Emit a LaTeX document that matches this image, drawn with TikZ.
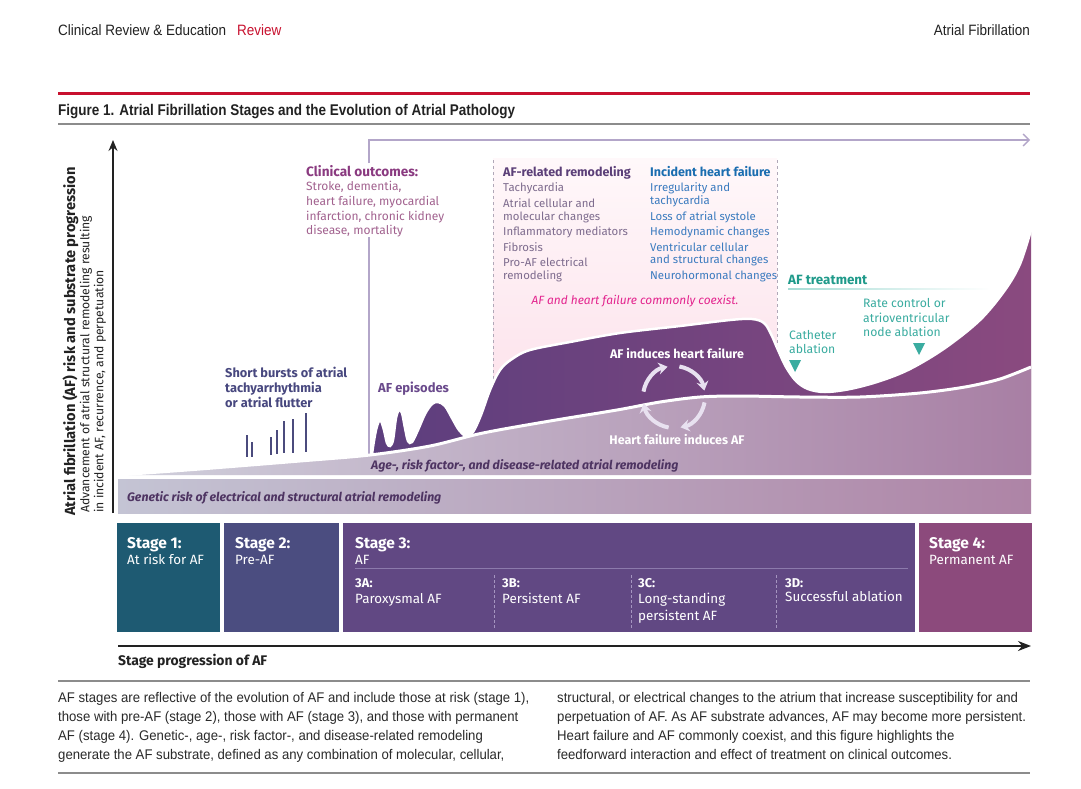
\documentclass[tikz,border=0pt]{standalone}
\usepackage{fontspec}
\setmainfont{Fira Sans}
\newfontfamily\capfont[FakeStretch=0.94]{Liberation Sans}
\newfontfamily\hdrfont[FakeStretch=0.9]{Liberation Sans}
\newfontfamily\titfont[FakeStretch=0.87]{Liberation Sans}
\usetikzlibrary{arrows.meta}

\definecolor{jred}{HTML}{C8102E}
\definecolor{hdr}{HTML}{222222}
\definecolor{rulegray}{HTML}{8C8C8C}
\definecolor{captext}{HTML}{2A2A2A}
\definecolor{lav}{HTML}{B3A6C9}
\definecolor{pinkA}{HTML}{FFF8FA}
\definecolor{pinkB}{HTML}{FCE0EA}
\definecolor{dashgray}{HTML}{B0A8B8}
\definecolor{waveL}{HTML}{5C3E7E}
\definecolor{waveR}{HTML}{8A4A7F}
\definecolor{ageL}{HTML}{D0D0DC}
\definecolor{ageR}{HTML}{A87FA4}
\definecolor{genL}{HTML}{C4C4D4}
\definecolor{genR}{HTML}{AE84A6}
\definecolor{gentext}{HTML}{4E3462}
\definecolor{clinT}{HTML}{8A3A80}
\definecolor{clinB}{HTML}{A2628F}
\definecolor{afrT}{HTML}{5B3F78}
\definecolor{afrB}{HTML}{7E6C8E}
\definecolor{ihfT}{HTML}{1A6DB0}
\definecolor{ihfB}{HTML}{3B7BBF}
\definecolor{coex}{HTML}{E3248E}
\definecolor{tealT}{HTML}{1F9A8A}
\definecolor{tealB}{HTML}{3AACA0}
\definecolor{tealL}{HTML}{A6DCD5}
\definecolor{barcol}{HTML}{4B4B7D}
\definecolor{burst}{HTML}{48487F}
\definecolor{episode}{HTML}{6A4A8C}
\definecolor{circ}{HTML}{E8E1F0}
\definecolor{stA}{HTML}{1E5A72}
\definecolor{stB}{HTML}{4B4D80}
\definecolor{stC}{HTML}{614883}
\definecolor{stD}{HTML}{8C4A7C}
\definecolor{stline}{HTML}{8C7AAC}
\definecolor{stdash}{HTML}{A595C0}

\tikzset{
  txt/.style={inner sep=0pt, anchor=base west},
  ttl/.style={txt, font=\bfseries\fontsize{12.5}{14}\selectfont},
  itm/.style={txt, font=\fontsize{11.4}{13}\selectfont},
  tealtxt/.style={txt, font=\fontsize{12.2}{14}\selectfont, text=tealB},
  stt/.style={txt, font=\bfseries\fontsize{15.5}{17}\selectfont, text=white},
  sts/.style={txt, font=\fontsize{13.4}{15}\selectfont, text=white},
  sbt/.style={txt, font=\bfseries\fontsize{12.8}{15}\selectfont, text=white},
  captxt/.style={txt, font=\capfont\fontsize{14}{16}\selectfont, text=captext},
  hdrtxt/.style={txt, font=\hdrfont\fontsize{15}{17}\selectfont, text=hdr},
  stagebox/.style={draw=none, inner sep=0pt, anchor=north west, minimum height=109pt},
  bar/.style={line width=2pt, draw=barcol},
  ylab/.style={inner sep=0pt, anchor=west, rotate=90, text=hdr},
  bandtxt/.style={txt, font=\bfseries\itshape\fontsize{12.3}{14}\selectfont, text=gentext},
  whitetxt/.style={txt, font=\bfseries\fontsize{12.5}{14}\selectfont, text=white},
}

\begin{document}
\begin{tikzpicture}[x=1pt,y=-1pt]
\useasboundingbox (0,0) rectangle (1081,789);
\fill[white] (0,0) rectangle (1081,789);

% ---------- header ----------
\node[hdrtxt] (hd1) at (58,36) {Clinical Review \& Education};
\node[hdrtxt, text=jred] (hd2) at (237,36) {Review};
\node[hdrtxt, anchor=base east] (hd3) at (1030,36) {Atrial Fibrillation};
\coordinate (rl1) at (58,94); \coordinate (rl2) at (1030,94);
\draw[jred, line width=3pt] (rl1) -- (rl2);
\node[txt, font=\titfont\bfseries\fontsize{15.5}{17}\selectfont, text=hdr] (ftit) at (58,115.5)
  {Figure 1. Atrial Fibrillation Stages and the Evolution of Atrial Pathology};
\coordinate (gl1) at (58,124); \coordinate (gl2) at (1030,124);
\draw[rulegray, line width=2pt] (gl1) -- (gl2);

% ---------- pink coexist region ----------
\shade[top color=pinkA, bottom color=pinkB] (493,158) rectangle (777,420);
\coordinate (d1a) at (493,160); \coordinate (d1b) at (493,420);
\coordinate (d2a) at (777,160); \coordinate (d2b) at (777,420);
\draw[dashgray, line width=1pt, dash pattern=on 3pt off 3pt] (d1a) -- (d1b);
\draw[dashgray, line width=1pt, dash pattern=on 3pt off 3pt] (d2a) -- (d2b);

% ---------- lavender clinical-outcomes arrow ----------
\coordinate (lavlow) at (369,455); \coordinate (lavmid) at (369,237);
\coordinate (lavup) at (369,163); \coordinate (lavc) at (369,140);
\coordinate (lavend) at (1030,140);
\draw[lav, line width=1.3pt] (lavlow) -- (lavmid);
\draw[lav, line width=1.3pt, -{Straight Barb[length=6pt,width=12pt,line width=1.3pt]}] (lavup) -- (lavc) -- (lavend);

% ---------- AF burden wave ----------
\shade[left color=waveL, right color=waveR]
  plot[smooth, tension=0.55] coordinates {(371,463) (373,447) (376,430) (379,421) (381,421) (384,430) (387,443) (390,446) (393,440) (396,418) (399,410) (402,413) (405,428) (408,441) (412,442) (418,430) (425,414) (432,404) (438,402) (445,406) (452,418) (459,430) (466,436) (473,432) (481,415) (490,390) (500,370) (512,359) (530,350) (570,342) (620,333) (680,326) (730,320) (752,319) (764,323) (771,334) (778,350) (786,367) (796,381) (808,389) (825,392) (850,389) (880,381) (910,369) (945,348) (980,320) (1005,290) (1020,264) (1031,230)}
  -- (1031,474) -- (371,474) -- cycle;
\draw[white, line width=2.5pt]
  plot[smooth, tension=0.55] coordinates {(371,463) (373,447) (376,430) (379,421) (381,421) (384,430) (387,443) (390,446) (393,440) (396,418) (399,410) (402,413) (405,428) (408,441) (412,442) (418,430) (425,414) (432,404) (438,402) (445,406) (452,418) (459,430) (466,436) (473,432) (481,415) (490,390) (500,370) (512,359) (530,350) (570,342) (620,333) (680,326) (730,320) (752,319) (764,323) (771,334) (778,350) (786,367) (796,381) (808,389) (825,392) (850,389) (880,381) (910,369) (945,348) (980,320) (1005,290) (1020,264) (1031,230)};

% ---------- age-related band ----------
\shade[left color=ageL, right color=ageR]
  plot[smooth, tension=0.5] coordinates {(118,475) (200,469) (300,461) (370,455) (430,446) (483,433) (550,421) (617,410) (660,402) (700,397) (740,396) (800,397) (860,397) (920,393) (965,387) (1000,379) (1031,367)}
  -- (1031,475) -- cycle;
\draw[white, line width=3pt]
  plot[smooth, tension=0.5] coordinates {(118,475) (200,469) (300,461) (370,455) (430,446) (483,433) (550,421) (617,410) (660,402) (700,397) (740,396) (800,397) (860,397) (920,393) (965,387) (1000,379) (1031,367)};

% ---------- genetic band ----------
\shade[left color=genL, right color=genR] (118,479) rectangle (1031,513);
\node[bandtxt] (gen) at (127,501) {Genetic risk of electrical and structural atrial remodeling};
\node[bandtxt] (age) at (371,469) {Age-, risk factor-, and disease-related atrial remodeling};

% ---------- y axis ----------
\coordinate (yb) at (113,513); \coordinate (yt) at (113,140);
\draw[hdr, line width=1.4pt, -{Stealth[length=11pt,width=9pt]}] (yb) -- (yt);
\node[ylab, font=\bfseries\fontsize{14.7}{17}\selectfont] (yl1) at (70.5,516) {Atrial fibrillation (AF) risk and substrate progression};
\node[ylab, font=\fontsize{12.2}{14}\selectfont] (yl2) at (86,513) {Advancement of atrial structural remodeling resulting};
\node[ylab, font=\fontsize{12.2}{14}\selectfont] (yl3) at (100,513) {in incident AF, recurrence, and perpetuation};

% ---------- clinical outcomes ----------
\node[ttl, text=clinT, font=\bfseries\fontsize{13.6}{15}\selectfont] (clt) at (306,176) {Clinical outcomes:};
\foreach \t/\y [count=\i] in {{Stroke, dementia,}/190, {heart failure, myocardial}/205, {infarction, chronic kidney}/220, {disease, mortality}/234}
  \node[itm, text=clinB, font=\fontsize{12}{14}\selectfont] (cl\i) at (306,\y) {\t};

% ---------- AF-related remodeling ----------
\node[ttl, text=afrT] (aft) at (503,176) {AF-related remodeling};
\foreach \t/\y [count=\i] in {Tachycardia/191, {Atrial cellular and}/207, {molecular changes}/220, {Inflammatory mediators}/235, Fibrosis/251, {Pro-AF electrical}/266, remodeling/279}
  \node[itm, text=afrB] (af\i) at (503,\y) {\t};

% ---------- incident heart failure ----------
\node[ttl, text=ihfT] (hft) at (650,176) {Incident heart failure};
\foreach \t/\y [count=\i] in {{Irregularity and}/191, tachycardia/204, {Loss of atrial systole}/220, {Hemodynamic changes}/235, {Ventricular cellular}/251, {and structural changes}/263, {Neurohormonal changes}/279}
  \node[itm, text=ihfB] (hf\i) at (650,\y) {\t};

\node[txt, anchor=base, font=\itshape\fontsize{11.9}{13}\selectfont, text=coex] (coexist) at (635,304) {AF and heart failure commonly coexist.};

% ---------- AF treatment ----------
\node[txt, font=\bfseries\fontsize{13.4}{15}\selectfont, text=tealT] (trt) at (788,284) {AF treatment};
\shade[left color=tealL, right color=white] (788,288.3) rectangle (990,289.8);
\node[tealtxt] (rc1) at (863,307) {Rate control or};
\node[tealtxt] (rc2) at (863,322) {atrioventricular};
\node[tealtxt] (rc3) at (863,336) {node ablation};
\node[tealtxt] (ca1) at (789,339) {Catheter};
\node[tealtxt] (ca2) at (789,353) {ablation};
\fill[tealB] (789,360) -- (801,360) -- (795,372) -- cycle;
\fill[tealB] (913,343) -- (925,343) -- (919,355) -- cycle;

% ---------- short bursts ----------
\node[ttl, text=burst, font=\bfseries\fontsize{12.8}{14}\selectfont] (sb1) at (225,377) {Short bursts of atrial};
\node[ttl, text=burst, font=\bfseries\fontsize{12.8}{14}\selectfont] (sb2) at (225,392) {tachyarrhythmia};
\node[ttl, text=burst, font=\bfseries\fontsize{12.8}{14}\selectfont] (sb3) at (225,407) {or atrial flutter};
\foreach \x/\a/\b in {247/435/457, 252/442/457, 271/437/455, 277/430/454, 284/421/453, 293/419/453, 306/413/452}
  \draw[bar] (\x,\a) -- (\x,\b);

\node[ttl, text=episode, font=\bfseries\fontsize{13}{14}\selectfont] (epi) at (378,392) {AF episodes};

% ---------- feedback loop ----------
\node[whitetxt, anchor=base] (ind1) at (677,358) {AF induces heart failure};
\node[whitetxt, anchor=base] (ind2) at (677,444) {Heart failure induces AF};
\coordinate (cc) at (674,397);
\foreach \a in {190,280,10,100}
  \draw[circ, line width=4pt, -{Stealth[length=9pt,width=12pt]}] (cc) ++(\a:31) arc[start angle=\a, end angle=\a+68, radius=31];

% ---------- stage boxes ----------
\node[stagebox, fill=stA, minimum width=103pt] (s1) at (117,523) {};
\node[stagebox, fill=stB, minimum width=115pt] (s2) at (224,523) {};
\node[stagebox, fill=stC, minimum width=572pt] (s3) at (343,523) {};
\node[stagebox, fill=stD, minimum width=113pt] (s4) at (919,523) {};

\node[stt] (s1a) at (127,548) {Stage 1:};
\node[sts] (s1b) at (127,564.5) {At risk for AF};
\node[stt] (s2a) at (235,548) {Stage 2:};
\node[sts] (s2b) at (235,564.5) {Pre-AF};
\node[stt] (s3a) at (355,548) {Stage 3:};
\node[sts] (s3b) at (355,564.5) {AF};
\node[stt] (s4a) at (929,548) {Stage 4:};
\node[sts] (s4b) at (929,564.5) {Permanent AF};

\coordinate (sl1) at (355,568.5); \coordinate (sl2) at (908,568.5);
\draw[stline, line width=0.8pt] (sl1) -- (sl2);
\foreach \x [count=\i] in {494,631,776} {
  \coordinate (dv\i a) at (\x,575); \coordinate (dv\i b) at (\x,628);
  \draw[stdash, line width=1pt, dash pattern=on 2.5pt off 2.5pt] (dv\i a) -- (dv\i b);
}
\node[sbt] (a3a) at (355,587) {3A:};
\node[sts] (a3b) at (355,603) {Paroxysmal AF};
\node[sbt] (b3a) at (502,587) {3B:};
\node[sts] (b3b) at (502,603) {Persistent AF};
\node[sbt] (c3a) at (638,587) {3C:};
\node[sts] (c3b) at (638,603) {Long-standing};
\node[sts] (c3c) at (638,620) {persistent AF};
\node[sbt] (d3a) at (785,587) {3D:};
\node[sts] (d3b) at (785,601) {Successful ablation};

% ---------- x axis ----------
\coordinate (xa) at (118,646); \coordinate (xb) at (1031,646);
\draw[hdr, line width=1.6pt, -{Stealth[length=13pt,width=10pt]}] (xa) -- (xb);
\node[txt, font=\bfseries\fontsize{13.9}{15}\selectfont, text=hdr] (xlab) at (118,665.5) {Stage progression of AF};

% ---------- caption ----------
\coordinate (c1) at (58,681); \coordinate (c2) at (1030,681);
\draw[rulegray, line width=2pt] (c1) -- (c2);
\node[captxt] (cl1) at (58,702) {AF stages are reflective of the evolution of AF and include those at risk (stage 1),};
\node[captxt] (cl2) at (58,721) {those with pre-AF (stage 2), those with AF (stage 3), and those with permanent};
\node[captxt] (cl3) at (58,740) {AF (stage 4). Genetic-, age-, risk factor-, and disease-related remodeling};
\node[captxt] (cl4) at (58,759) {generate the AF substrate, defined as any combination of molecular, cellular,};
\node[captxt] (cr1) at (557,702) {structural, or electrical changes to the atrium that increase susceptibility for and};
\node[captxt] (cr2) at (557,721) {perpetuation of AF. As AF substrate advances, AF may become more persistent.};
\node[captxt] (cr3) at (557,740) {Heart failure and AF commonly coexist, and this figure highlights the};
\node[captxt] (cr4) at (557,759) {feedforward interaction and effect of treatment on clinical outcomes.};
\coordinate (c3) at (58,773); \coordinate (c4) at (1030,773);
\draw[rulegray, line width=2pt] (c3) -- (c4);
\end{tikzpicture}
\end{document}
